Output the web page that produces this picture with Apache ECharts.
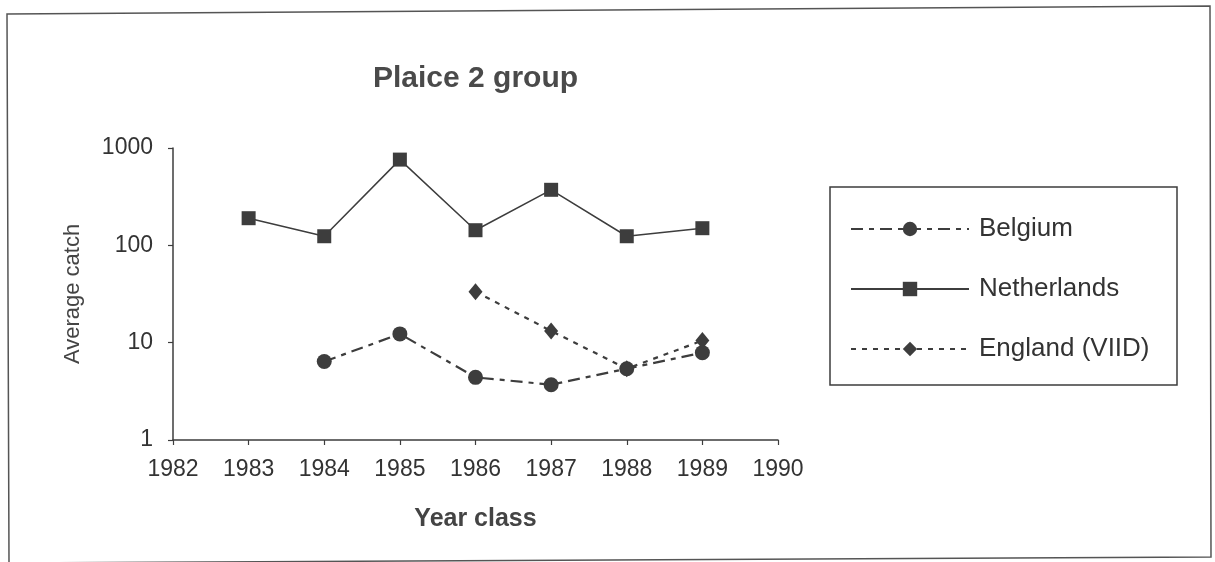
<!DOCTYPE html>
<html>
<head>
<meta charset="utf-8">
<script src="https://cdn.jsdelivr.net/npm/echarts@6/dist/echarts.min.js"></script>
<style>
  html, body { margin: 0; padding: 0; background: #fff; }
  #chart { width: 1215px; height: 562px; }
</style>
</head>
<body>
<div id="chart"></div>
<script>
// Year classes on the x axis and average catch per survey (log scale)
const yearTicks = [1982, 1983, 1984, 1985, 1986, 1987, 1988, 1989, 1990];
const catchTicks = [1, 10, 100, 1000];

const netherlandsYears = [1983, 1984, 1985, 1986, 1987, 1988, 1989];
const netherlandsCatch = [190, 124, 760, 143, 372, 124, 150];

const belgiumYears = [1984, 1985, 1986, 1987, 1988, 1989];
const belgiumCatch = [6.4, 12.3, 4.4, 3.7, 5.4, 7.9];

const englandYears = [1986, 1987, 1988, 1989];
const englandCatch = [33.4, 13.2, 5.4, 10.5];

const INK = '#3d3d3d';
const FONT = '"Liberation Sans", Arial, Helvetica, sans-serif';

function pairs(xs, ys) {
  return xs.map((x, i) => [x, ys[i]]);
}

const chart = echarts.init(document.getElementById('chart'), null, { renderer: 'canvas' });

chart.setOption({
  backgroundColor: '#ffffff',
  animation: false,
  title: {
    text: 'Plaice 2 group',
    left: 368,
    top: 59,
    textStyle: { fontFamily: FONT, fontSize: 30, fontWeight: 'bold', color: '#4a4a4a' }
  },
  grid: { left: 173, right: 437, top: 148, bottom: 122, containLabel: false },
  xAxis: {
    type: 'value',
    min: yearTicks[0],
    max: yearTicks[yearTicks.length - 1],
    interval: 1,
    name: 'Year class',
    nameLocation: 'middle',
    nameGap: 67,
    nameTextStyle: { fontFamily: FONT, fontSize: 25, fontWeight: 'bold', color: '#444' },
    axisLine: { lineStyle: { color: INK, width: 1.5 } },
    axisTick: { show: true, length: 5, lineStyle: { color: INK, width: 1.2 } },
    axisLabel: {
      fontFamily: FONT, fontSize: 23, color: '#333', margin: 18,
      formatter: v => String(v)
    },
    splitLine: { show: false }
  },
  yAxis: {
    type: 'log',
    logBase: 10,
    min: catchTicks[0],
    max: catchTicks[catchTicks.length - 1],
    name: 'Average catch',
    nameLocation: 'middle',
    nameRotate: 90,
    nameGap: 89,
    nameTextStyle: { fontFamily: FONT, fontSize: 22, color: '#444' },
    axisLine: { show: true, lineStyle: { color: INK, width: 1.5 } },
    axisTick: { show: true, length: 5, lineStyle: { color: INK, width: 1.2 } },
    axisLabel: {
      fontFamily: FONT, fontSize: 23, color: '#333', margin: 20,
      formatter: v => String(Math.round(v))
    },
    splitLine: { show: false }
  },
  legend: {
    orient: 'vertical',
    left: 850,
    top: 216,
    padding: 0,
    itemWidth: 118,
    itemHeight: 18,
    itemGap: 34,
    textStyle: { fontFamily: FONT, fontSize: 26, color: '#333', lineHeight: 26, padding: [0, 0, 0, 5] },
    data: ['Belgium', 'Netherlands', 'England (VIID)']
  },
  series: [
    {
      name: 'Belgium',
      type: 'line',
      data: pairs(belgiumYears, belgiumCatch),
      symbol: 'circle',
      symbolSize: 15,
      lineStyle: { color: INK, width: 2.2, type: [12, 6, 5, 6] },
      itemStyle: { color: INK }
    },
    {
      name: 'Netherlands',
      type: 'line',
      data: pairs(netherlandsYears, netherlandsCatch),
      symbol: 'rect',
      symbolSize: 14,
      lineStyle: { color: INK, width: 1.5, type: 'solid' },
      itemStyle: { color: INK }
    },
    {
      name: 'England (VIID)',
      type: 'line',
      data: pairs(englandYears, englandCatch),
      symbol: 'diamond',
      symbolSize: [14, 17],
      lineStyle: { color: INK, width: 2.2, type: [5, 6] },
      itemStyle: { color: INK }
    }
  ],
  graphic: [
    {
      type: 'polygon',
      shape: { points: [[7, 14], [1210, 6], [1211, 557], [9, 563]] },
      style: { fill: null, stroke: '#555', lineWidth: 1.5 },
      silent: true
    },
    {
      type: 'rect',
      shape: { x: 830, y: 187, width: 347, height: 198 },
      style: { fill: null, stroke: INK, lineWidth: 1.5 },
      silent: true
    }
  ]
});
</script>
</body>
</html>
